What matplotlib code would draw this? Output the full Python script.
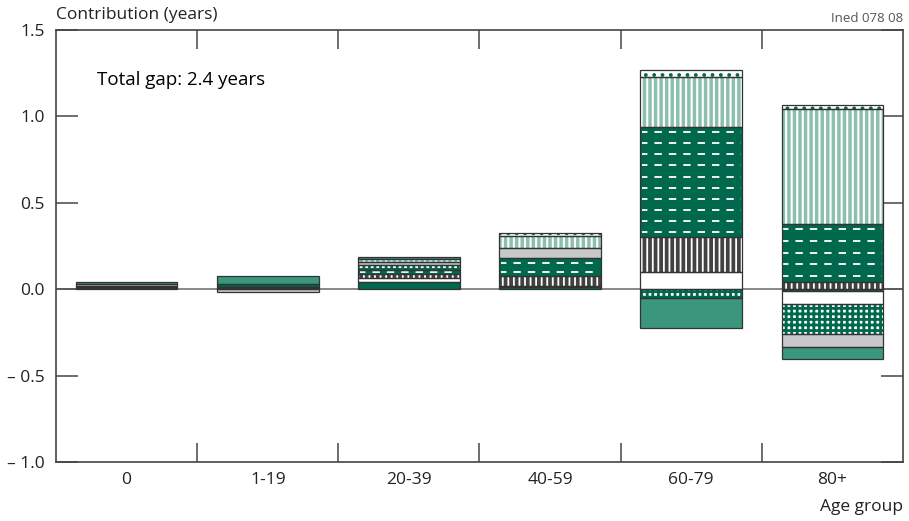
import numpy as np
import matplotlib.pyplot as plt

plt.rcParams['font.family'] = ['Open Sans', 'DejaVu Sans']
plt.rcParams['hatch.linewidth'] = 1.5

age_groups = ['0', '1-19', '20-39', '40-59', '60-79', '80+']

# contribution of each cause group to the gap (years)
c_dark = [0.008, 0.006, 0.044, 0.013, 0.0, -0.012]
c_white = [0.004, 0.004, 0.021, 0.005, 0.10, -0.075]
c_stripes = [0.0, 0.004, 0.025, 0.057, 0.20, 0.042]
c_dashes = [0.0, 0.0, 0.023, 0.106, 0.64, 0.338]
c_grid = [0.006, 0.015, 0.025, 0.0, -0.048, -0.175]
c_grey = [0.012, -0.018, 0.019, 0.06, 0.0, -0.07]
c_light = [0.0, 0.0, 0.019, 0.067, 0.29, 0.662]
c_medium = [0.014, 0.05, 0.01, 0.0, -0.176, -0.07]
c_dots = [0.0, 0.0, 0.0, 0.017, 0.04, 0.025]

yticks = [-1.0, -0.5, 0.0, 0.5, 1.0, 1.5]
ylabels = ['\u2013 1.0', '\u2013 0.5', '0.0', '0.5', '1.0', '1.5']

dgreen = '#00684c'
mgreen = '#3a977e'
lgreen = '#8cbfae'
dgrey = '#424242'
lgrey = '#c7c8c9'
edge = '#333333'

# (values, face colour, hatch, hatch colour, hatch width, dashed overlay)
series = [
    (c_dark, dgreen, None, dgreen, 1.5, False),
    (c_white, 'white', None, 'white', 1.5, False),
    (c_stripes, dgrey, '|||', 'white', 1.3, False),
    (c_dashes, dgreen, None, dgreen, 1.5, True),
    (c_grid, 'white', '+++', dgreen, 2.0, False),
    (c_grey, lgrey, None, lgrey, 1.5, False),
    (c_light, lgreen, '|||', 'white', 1.5, False),
    (c_medium, mgreen, None, mgreen, 1.5, False),
    (c_dots, 'white', '..', dgreen, 1.5, False),
]

fig = plt.figure(figsize=(9.09, 5.21), dpi=100)
ax = fig.add_axes([0.0616, 0.1132, 0.9318, 0.8292])

x = np.arange(len(age_groups))
w = 0.72
pos = np.zeros(len(x))
neg = np.zeros(len(x))

ax.axhline(0, color='#888888', lw=1.4, zorder=1)

for vals, face, hatch, hcol, hlw, dashed in series:
    v = np.array(vals)
    base = np.where(v >= 0, pos, neg)
    m = v != 0
    bars = ax.bar(x[m], v[m], w, bottom=base[m], color=face, edgecolor=hcol,
                  linewidth=0, hatch=hatch, zorder=2)
    for p in bars:
        if hasattr(p, 'set_hatch_linewidth'):
            p.set_hatch_linewidth(hlw)
    ax.bar(x[m], v[m], w, bottom=base[m], fill=False, edgecolor=edge,
           linewidth=0.9, zorder=3)
    if dashed:
        for xi, lo, h in zip(x[m], base[m], v[m]):
            n = max(1, int(round(abs(h) / 0.062)))
            ys = lo + (np.arange(n) + 0.5) * h / n
            ax.hlines(ys, xi - w / 2 + 0.01, xi + w / 2 - 0.01, colors='#f2f2f2',
                      linewidth=1.4, linestyles=(1, (3.8, 3.6)), zorder=2.5)
    pos = pos + np.where(v > 0, v, 0)
    neg = neg + np.where(v < 0, v, 0)

ax.set_xlim(-0.5, len(x) - 0.5)
ax.set_ylim(-1.0, 1.5)
ax.set_xticks(x)
ax.set_xticklabels(age_groups, fontsize=12.5, color='#222222')
ax.set_xticks(np.arange(0.5, len(x) - 0.5, 1), minor=True)
ax.tick_params(axis='x', which='major', length=0, pad=7)
ax.tick_params(axis='x', which='minor', direction='in', length=14, width=1.2,
               color='#555555', top=True, bottom=True)
ax.set_yticks(yticks)
ax.set_yticklabels(ylabels, fontsize=12.5, color='#222222')
ax.tick_params(axis='y', direction='in', length=16, width=1.2, color='#555555',
               left=True, right=True, pad=8)
ax.yaxis.set_minor_locator(plt.NullLocator())

for s in ax.spines.values():
    s.set_color('#444444')
    s.set_linewidth(1.2)

fig.text(0.0616, 0.971, 'Contribution (years)', fontsize=12.5, color='#222222',
         ha='left', va='center')
fig.text(0.9934, 0.965, 'Ined 078 08', fontsize=9.5, color='#555555',
         ha='right', va='center')
fig.text(0.9934, 0.027, 'Age group', fontsize=12.5, color='#222222',
         ha='right', va='center')
ax.text(0.0484, 0.884, 'Total gap: 2.4 years', transform=ax.transAxes,
        fontsize=13.5, color='black', ha='left', va='center')

plt.savefig('out.png', dpi=100)
